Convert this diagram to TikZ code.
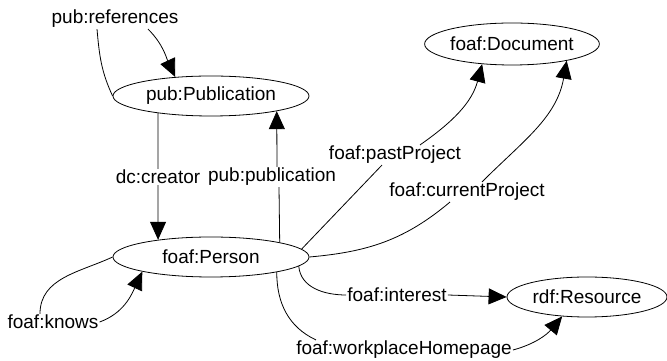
\documentclass[tikz,border=0pt]{standalone}
\usepackage{fontspec}
\setmainfont{Liberation Sans}
\usetikzlibrary{shapes.geometric,arrows.meta}
\begin{document}
\begin{tikzpicture}[x=1pt,y=1pt,
  every node/.style={font=\fontsize{19}{23}\selectfont},
  cls/.style={ellipse,draw,line width=0.8pt,inner sep=0pt,minimum height=40pt},
  lbl/.style={inner sep=1pt},
  edge/.style={line width=0.8pt},
  arr/.style={line width=0.8pt,-{Triangle[length=18pt,width=16pt]}}]
\useasboundingbox (0,0) rectangle (667,361);
% classes
\node[cls,minimum width=196pt] (pub) at (211,265) {pub:Publication};
\node[cls,minimum width=196pt] (person) at (211,104) {foaf:Person};
\node[cls,minimum width=172pt,minimum height=42pt] (doc) at (512,317) {foaf:Document};
\node[cls,minimum width=160pt] (res) at (587,64) {rdf:Resource};
% labels
\node[lbl] (refs) at (115,342) {pub:references};
\node[lbl] (creator) at (158,184) {dc:creator};
\node[lbl] (publ) at (272,184) {pub:publication};
\node[lbl] (past) at (395,206) {foaf:pastProject};
\node[lbl] (curr) at (467,169) {foaf:currentProject};
\node[lbl] (knows) at (53,39) {foaf:knows};
\node[lbl] (interest) at (397,66) {foaf:interest};
\node[lbl] (work) at (404,11) {foaf:workplaceHomepage};
% edges
\draw[edge] (pub.180) to[out=115,in=-85] ([xshift=-18pt]refs.south);
\draw[arr] ([xshift=33pt]refs.south) to[out=-45,in=115] (pub.152);
\draw[edge] (pub.198) -- (creator.north);
\draw[arr] (creator.south) -- (person.162);
\draw[edge] (person.12) -- ([xshift=7pt]publ.south);
\draw[arr] ([xshift=5pt]publ.north) -- (pub.-13);
\draw[edge] (person.180) to[out=205,in=90] ([xshift=-13pt]knows.north);
\draw[arr] (knows.east) to[out=20,in=-115] (person.192);
\draw[edge] (person.5) -- ([xshift=-13pt]past.south);
\draw[arr] ([xshift=25pt]past.north) to[out=35,in=-105] (doc.214);
\draw[edge] (person.0) to[out=5,in=-140] ([xshift=-17pt]curr.south);
\draw[arr] ([xshift=15pt]curr.north) to[out=45,in=-100] (doc.-17);
\draw[edge] (person.-6) to[out=-85,in=180] (interest.west);
\draw[arr] (interest.east) -- (res.180);
\draw[edge] (person.-13) to[out=-90,in=155] ([xshift=-88pt]work.north);
\draw[arr] (work.east) to[out=15,in=-130] (res.218);
\end{tikzpicture}
\end{document}
